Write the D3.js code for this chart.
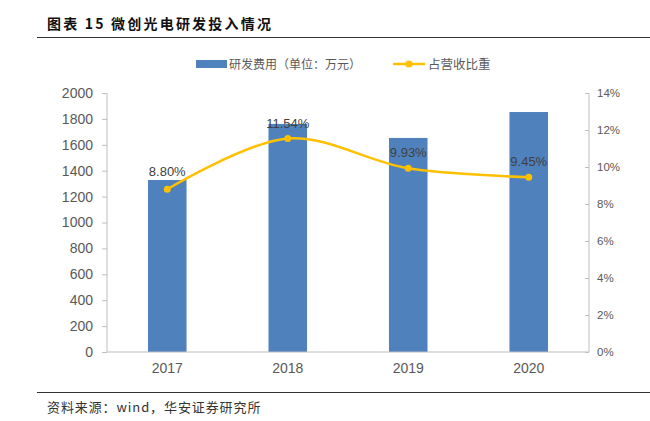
<!DOCTYPE html>
<html><head><meta charset="utf-8">
<script src="https://cdn.jsdelivr.net/npm/d3@7/dist/d3.min.js"></script>
<style>body{margin:0;background:#fff}svg{display:block}</style>
</head><body>
<svg id="c" width="650" height="421"></svg>
<script>
const years = ["2017","2018","2019","2020"];
const rdCost = [1328, 1761, 1653, 1853];
const revShare = [8.80, 11.54, 9.93, 9.45];
const leftTicks = [0,200,400,600,800,1000,1200,1400,1600,1800,2000];
const rightTicks = [0,2,4,6,8,10,12,14];

const svg = d3.select("#c");
const font = "Arial, 'Liberation Sans', 'Noto Sans CJK SC', sans-serif";
const cjk = "'Noto Sans CJK SC', sans-serif";
const L = 107, R = 589, T = 93, B = 352;

// title
svg.append("text").attr("x",47).attr("y",29).attr("font-family",cjk).attr("font-weight","bold")
  .attr("font-size",14).attr("letter-spacing",2.2).attr("fill","#111").text("图表 15 微创光电研发投入情况");
svg.append("line").attr("x1",37).attr("x2",650).attr("y1",37.5).attr("y2",37.5).attr("stroke","#333").attr("stroke-width",1);
svg.append("line").attr("x1",37).attr("x2",650).attr("y1",392.5).attr("y2",392.5).attr("stroke","#333").attr("stroke-width",1);
svg.append("text").attr("x",47).attr("y",412).attr("font-family",cjk).attr("font-size",13).attr("letter-spacing",0.9)
  .attr("fill","#333").text("资料来源：wind，华安证券研究所");

const x = d3.scaleBand().domain(years).range([L,R]).paddingInner(0.68).paddingOuter(0.34);
const y = d3.scaleLinear().domain([0,2000]).range([B,T]);
const y2 = d3.scaleLinear().domain([0,14]).range([B,T]);

// bars
svg.append("g").selectAll("rect").data(years).join("rect")
  .attr("x",d=>x(d)).attr("width",x.bandwidth())
  .attr("y",(d,i)=>y(rdCost[i])).attr("height",(d,i)=>B-y(rdCost[i]))
  .attr("fill","#4f81bd");

// axes
const gl = svg.append("g").attr("transform",`translate(${L},0)`)
  .call(d3.axisLeft(y).tickValues(leftTicks).tickSize(5).tickPadding(9).tickFormat(d3.format("d")));
const gr = svg.append("g").attr("transform",`translate(${R},0)`)
  .call(d3.axisRight(y2).tickValues(rightTicks).tickSize(-4).tickPadding(8).tickFormat(d=>d+"%"));
const gb = svg.append("g").attr("transform",`translate(0,${B})`)
  .call(d3.axisBottom(x).tickSize(0).tickPadding(11));
[gl,gr,gb].forEach(g=>{
  g.selectAll("path,line").attr("stroke","#bfbfbf");
  g.selectAll("text").attr("fill","#595959").attr("font-family",font);
});
gl.selectAll("text").attr("font-size",14);
gb.selectAll("text").attr("font-size",14);
gr.selectAll("text").attr("font-size",11.5);
gr.select("path").attr("d",`M0,${T}V${B}`);
gl.select("path").attr("d",`M0,${T}V${B}`);
gb.select("path").attr("d",`M${L},0H${R}`);

// line
const pts = years.map((d,i)=>[x(d)+x.bandwidth()/2, y2(revShare[i])]);
svg.append("path").attr("d",d3.line().curve(d3.curveCatmullRom.alpha(0.5))(pts))
  .attr("fill","none").attr("stroke","#ffc000").attr("stroke-width",2.5);
svg.append("g").selectAll("circle").data(pts).join("circle")
  .attr("cx",d=>d[0]).attr("cy",d=>d[1]).attr("r",3.5).attr("fill","#ffc000");
svg.append("g").selectAll("text").data(pts).join("text")
  .attr("x",d=>d[0]).attr("y",(d,i)=>d[1]-(i===0?13:11)).attr("text-anchor","middle")
  .attr("font-family",font).attr("font-size",13).attr("fill","#404040")
  .text((d,i)=>revShare[i].toFixed(2)+"%");

// legend
svg.append("rect").attr("x",196).attr("y",60).attr("width",31).attr("height",8).attr("fill","#4f81bd");
svg.append("text").attr("x",229).attr("y",68.5).attr("font-family",cjk).attr("font-size",12).attr("fill","#595959").text("研发费用（单位：万元）");
svg.append("line").attr("x1",393).attr("x2",425).attr("y1",64).attr("y2",64).attr("stroke","#ffc000").attr("stroke-width",2.5);
svg.append("circle").attr("cx",409).attr("cy",64).attr("r",3.5).attr("fill","#ffc000");
svg.append("text").attr("x",428).attr("y",68.5).attr("font-family",cjk).attr("font-size",12.5).attr("fill","#595959").text("占营收比重");
</script>
</body></html>
